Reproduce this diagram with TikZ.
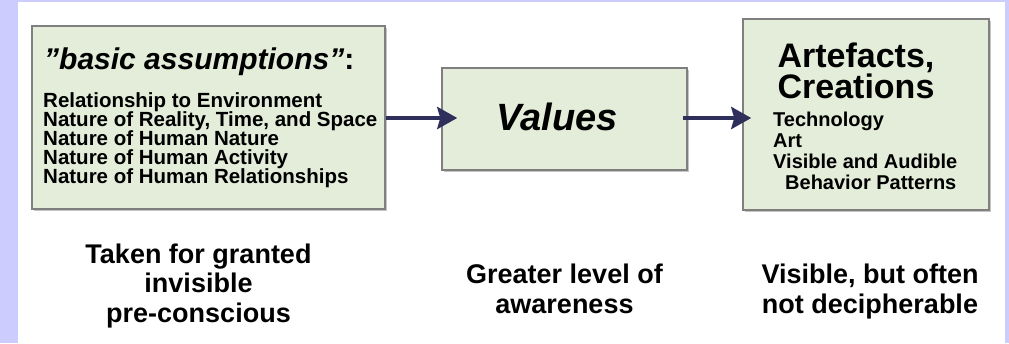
\documentclass[tikz,border=0pt]{standalone}
\usepackage{fontspec}
\setmainfont{Liberation Sans}
\usetikzlibrary{arrows.meta,shadows}
\definecolor{frame}{HTML}{CCCCFF}
\definecolor{boxfill}{HTML}{E3EDD9}
\definecolor{boxline}{HTML}{7F7F7F}
\definecolor{arrowc}{HTML}{2F2F5C}
\begin{document}
\begin{tikzpicture}[x=1pt,y=-1pt,
  box/.style={draw=boxline,line width=1.5pt,fill=boxfill,inner sep=0pt,
    drop shadow={shadow xshift=1.5pt,shadow yshift=-1.5pt,fill=black!45}},
  conn/.style={draw=arrowc,line width=4pt,-{Stealth[length=20pt,width=22pt,inset=3pt]}},
  item/.style={anchor=base west,inner sep=0pt,font=\bfseries\fontsize{20.5}{20}\selectfont},
  note/.style={anchor=base,inner sep=0pt,align=center,font=\bfseries\fontsize{27}{29.5}\selectfont}]
\useasboundingbox (0,0) rectangle (1009,343);
\fill[frame] (0,0) rectangle (1009,343);
\fill[white] (18,2) rectangle (1005,343);
% boxes
\node[box,minimum width=353pt,minimum height=183pt] (left) at (208.5,117.5) {};
\node[box,minimum width=245pt,minimum height=102pt] (val) at (564.5,119) {};
\node[box,minimum width=246pt,minimum height=191pt] (right) at (866,114.5) {};
% left box texts
\node[anchor=base west,inner sep=0pt,font=\bfseries\itshape\fontsize{30}{30}\selectfont] (ba) at (44,69) {\char34 basic assumptions\char34\textup{:}};
\node[item] (l1) at (43,107) {Relationship to Environment};
\node[item] (l2) at (43,126) {Nature of Reality, Time, and Space};
\node[item] (l3) at (43,145) {Nature of Human Nature};
\node[item] (l4) at (43,164) {Nature of Human Activity};
\node[item] (l5) at (43,183) {Nature of Human Relationships};
% values
\node[anchor=base,inner sep=0pt,font=\bfseries\itshape\fontsize{38}{38}\selectfont] (vt) at (557,130) {Values};
% right box texts
\node[anchor=base,inner sep=0pt,font=\bfseries\fontsize{34}{34}\selectfont] (ar) at (856,67) {Artefacts,};
\node[anchor=base,inner sep=0pt,font=\bfseries\fontsize{34}{34}\selectfont] (cr) at (856,98) {Creations};
\node[item,font=\bfseries\fontsize{20}{20}\selectfont] (r1) at (773,126) {Technology};
\node[item,font=\bfseries\fontsize{20}{20}\selectfont] (r2) at (773,147) {Art};
\node[item,font=\bfseries\fontsize{20}{20}\selectfont] (r3) at (773,168) {Visible and Audible};
\node[item,font=\bfseries\fontsize{20}{20}\selectfont] (r4) at (785,189) {Behavior Patterns};
% arrows
\draw[conn,shorten >=-16pt] (left.east |- 0,118) -- (val.west |- 0,118);
\draw[conn,shorten <=-5pt,shorten >=-9pt] (val.east |- 0,118) -- (right.west |- 0,118);
% bottom notes (anchor base = baseline of last line)
\node[note] (n1) at (198.5,322) {Taken for granted\\invisible\\pre-conscious};
\node[note] (n2) at (564.5,313) {Greater level of\\awareness};
\node[note] (n3) at (870,313) {Visible, but often\\not decipherable};
\end{tikzpicture}
\end{document}
